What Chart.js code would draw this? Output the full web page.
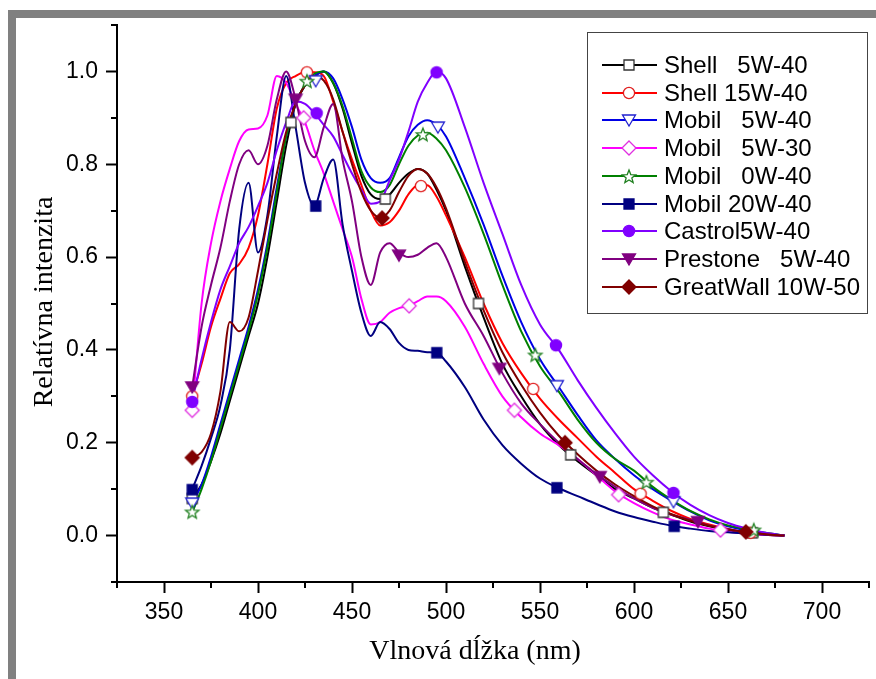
<!DOCTYPE html>
<html>
<head>
<meta charset="utf-8">
<script src="https://cdn.jsdelivr.net/npm/chart.js@4.4.0/dist/chart.umd.min.js"></script>
<style>
  html, body { margin: 0; padding: 0; background: #fff; }
  #wrap { position: relative; width: 876px; height: 679px; }
</style>
</head>
<body>
<div id="wrap"><canvas id="chart"></canvas></div>
<script>
/* ===============================
   DATA
   =============================== */

// wavelength grid, nm
const WAVELENGTHS = [365,370,375,380,385,390,395,400,405,410,415,420,425,430,435,440,445,450,455,460,465,470,475,480,485,490,495,500,
                     510,520,530,540,550,560,570,580,590,600,610,620,630,640,650,660,670,680];

const SHELL_5W40      = [0.08,0.11,0.16,0.22,0.29,0.36,0.43,0.50,0.60,0.72,0.84,0.93,0.97,0.99,1.00,0.975,0.92,0.845,0.775,0.735,0.725,0.735,0.76,0.78,0.79,0.78,0.745,0.70,
                         0.58,0.47,0.37,0.30,0.24,0.195,0.16,0.13,0.10,0.08,0.06,0.045,0.03,0.02,0.012,0.005,0.002,0];
const SHELL_15W40     = [0.30,0.37,0.45,0.51,0.565,0.585,0.62,0.69,0.80,0.92,0.975,0.99,0.998,0.998,0.99,0.935,0.87,0.81,0.755,0.70,0.668,0.675,0.70,0.735,0.755,0.755,0.73,0.69,
                         0.60,0.50,0.415,0.35,0.295,0.25,0.21,0.17,0.135,0.10,0.075,0.053,0.036,0.024,0.014,0.006,0.002,0];
const MOBIL_5W40      = [0.07,0.11,0.17,0.24,0.31,0.38,0.45,0.53,0.63,0.75,0.86,0.93,0.97,0.99,1.00,0.985,0.94,0.88,0.81,0.77,0.76,0.77,0.815,0.86,0.885,0.895,0.885,0.86,
                         0.77,0.67,0.56,0.46,0.38,0.32,0.26,0.205,0.165,0.13,0.10,0.075,0.052,0.033,0.02,0.011,0.005,0];
const MOBIL_5W30      = [0.27,0.50,0.63,0.72,0.79,0.85,0.875,0.877,0.905,0.99,0.975,0.93,0.89,0.83,0.78,0.72,0.66,0.60,0.51,0.455,0.46,0.48,0.49,0.495,0.505,0.515,0.515,0.505,
                         0.45,0.37,0.30,0.255,0.22,0.195,0.165,0.13,0.095,0.07,0.05,0.034,0.024,0.015,0.008,0.004,0.002,0];
const MOBIL_0W40      = [0.05,0.10,0.16,0.23,0.30,0.37,0.44,0.52,0.62,0.74,0.86,0.93,0.97,0.995,1.00,0.975,0.925,0.855,0.785,0.75,0.74,0.755,0.80,0.84,0.862,0.868,0.855,0.83,
                         0.75,0.65,0.54,0.44,0.365,0.31,0.25,0.20,0.165,0.14,0.105,0.077,0.053,0.035,0.022,0.014,0.006,0];
const MOBIL_20W40     = [0.10,0.15,0.21,0.28,0.40,0.66,0.76,0.61,0.69,0.86,0.99,0.88,0.76,0.71,0.77,0.81,0.67,0.57,0.48,0.43,0.46,0.445,0.415,0.40,0.398,0.395,0.394,0.375,
                         0.32,0.25,0.195,0.155,0.123,0.102,0.085,0.068,0.052,0.04,0.03,0.021,0.015,0.01,0.007,0.004,0.002,0];
const CASTROL_5W40    = [0.29,0.38,0.46,0.53,0.58,0.63,0.665,0.71,0.76,0.83,0.89,0.935,0.93,0.91,0.885,0.86,0.82,0.78,0.745,0.715,0.72,0.765,0.81,0.87,0.935,0.975,1.00,0.985,
                         0.88,0.76,0.65,0.54,0.455,0.40,0.335,0.275,0.22,0.17,0.13,0.095,0.066,0.044,0.027,0.015,0.006,0];
const PRESTONE_5W40   = [0.32,0.45,0.54,0.62,0.72,0.80,0.83,0.80,0.84,0.94,1.00,0.94,0.85,0.815,0.88,0.93,0.81,0.72,0.60,0.54,0.61,0.63,0.61,0.60,0.605,0.62,0.63,0.60,
                         0.50,0.43,0.35,0.285,0.24,0.20,0.165,0.133,0.105,0.08,0.06,0.045,0.034,0.022,0.014,0.007,0.003,0];
const GREATWALL_10W50 = [0.168,0.18,0.22,0.31,0.46,0.44,0.47,0.57,0.68,0.78,0.87,0.93,0.97,0.99,0.98,0.94,0.87,0.80,0.74,0.70,0.685,0.70,0.74,0.775,0.79,0.78,0.75,0.705,
                         0.59,0.485,0.395,0.325,0.265,0.215,0.175,0.14,0.11,0.085,0.063,0.046,0.032,0.021,0.013,0.008,0.003,0];

// marker points [nm, value]
const MARK_SHELL_5W40      = [[365,0.08],[417.5,0.89],[467.7,0.725],[517.3,0.50],[566.3,0.174],[615.6,0.05],[663,0.006]];
const MARK_SHELL_15W40     = [[365,0.30],[426,0.998],[486.7,0.753],[546.4,0.316],[603.5,0.09],[662,0.006]];
const MARK_MOBIL_5W40      = [[365,0.07],[430.7,0.98],[495.7,0.88],[559,0.323],[621,0.073]];
const MARK_MOBIL_5W30      = [[365,0.27],[424.3,0.90],[480.4,0.495],[536.4,0.27],[591.8,0.088],[646,0.012]];
const MARK_MOBIL_0W40      = [[365,0.052],[426,0.98],[487.7,0.865],[547.5,0.39],[606.6,0.116],[663.7,0.013]];
const MARK_MOBIL_20W40     = [[365,0.099],[430.7,0.71],[495.1,0.394],[559,0.103],[621.4,0.02]];
const MARK_CASTROL_5W40    = [[365,0.288],[431.2,0.91],[495,0.998],[558.5,0.41],[621,0.092]];
const MARK_PRESTONE_5W40   = [[365,0.32],[420,0.94],[475,0.604],[528.4,0.36],[581.8,0.127],[634,0.03]];
const MARK_GREATWALL_10W50 = [[365,0.168],[466,0.684],[563.3,0.2],[659.5,0.008]];

// axis ticks
const X_TICKS = [350,400,450,500,550,600,650,700];
const X_MINOR = [325,375,425,475,525,575,625,675,725];
const Y_TICKS = [0,0.2,0.4,0.6,0.8,1.0];
const Y_MINOR = [-0.1,0.1,0.3,0.5,0.7,0.9,1.1];

const X_TITLE = "Vlnová dĺžka (nm)";
const Y_TITLE = "Relatívna intenzita";

/* ------------------------------
   SERIES STYLES
--------------------------------*/
const SERIES = [
  { name: "Shell   5W-40",    values: SHELL_5W40,      marks: MARK_SHELL_5W40,      color: "#000000", shape: "square",  fill: "#ffffff", stroke: "#333333" },
  { name: "Shell 15W-40",     values: SHELL_15W40,     marks: MARK_SHELL_15W40,     color: "#ff0000", shape: "circle",  fill: "#ffffff", stroke: "#e02020" },
  { name: "Mobil   5W-40",    values: MOBIL_5W40,      marks: MARK_MOBIL_5W40,      color: "#0000e6", shape: "triDown", fill: "#ffffff", stroke: "#2020d0" },
  { name: "Mobil   5W-30",    values: MOBIL_5W30,      marks: MARK_MOBIL_5W30,      color: "#ff00ff", shape: "diamond", fill: "#ffffff", stroke: "#e030e0" },
  { name: "Mobil   0W-40",    values: MOBIL_0W40,      marks: MARK_MOBIL_0W40,      color: "#008000", shape: "star",    fill: "#ffffff", stroke: "#208020" },
  { name: "Mobil 20W-40",     values: MOBIL_20W40,     marks: MARK_MOBIL_20W40,     color: "#000080", shape: "square",  fill: "#000080", stroke: "#000080" },
  { name: "Castrol5W-40",     values: CASTROL_5W40,    marks: MARK_CASTROL_5W40,    color: "#8000ff", shape: "circle",  fill: "#8000ff", stroke: "#8000ff" },
  { name: "Prestone   5W-40", values: PRESTONE_5W40,   marks: MARK_PRESTONE_5W40,   color: "#800080", shape: "triDown", fill: "#800080", stroke: "#800080" },
  { name: "GreatWall 10W-50", values: GREATWALL_10W50, marks: MARK_GREATWALL_10W50, color: "#800000", shape: "diamond", fill: "#800000", stroke: "#800000" }
];

const SANS = "'Liberation Sans', Arial, sans-serif";
const SERIF = "'Liberation Serif', 'Times New Roman', serif";

/* ------------------------------
   MARKER IMAGES
--------------------------------*/
function makeMarker(shape, fill, stroke){
  const s = 18, c = s / 2;
  const cv = document.createElement("canvas");
  cv.width = s; cv.height = s;
  const g = cv.getContext("2d");
  g.fillStyle = fill;
  g.strokeStyle = stroke;
  g.lineWidth = 1.3;
  g.beginPath();
  if (shape === "square") {
    g.rect(c - 5, c - 5, 10, 10);
  } else if (shape === "circle") {
    g.arc(c, c, 5.6, 0, Math.PI * 2);
  } else if (shape === "triDown") {
    g.moveTo(c - 6.5, c - 5); g.lineTo(c + 6.5, c - 5); g.lineTo(c, c + 6); g.closePath();
  } else if (shape === "diamond") {
    g.moveTo(c, c - 7); g.lineTo(c + 7, c); g.lineTo(c, c + 7); g.lineTo(c - 7, c); g.closePath();
  } else if (shape === "star") {
    for (let i = 0; i < 10; i++) {
      const r = i % 2 ? 3 : 7;
      const a = -Math.PI / 2 + i * Math.PI / 5;
      const px = c + r * Math.cos(a), py = c + 1 + r * Math.sin(a);
      if (i === 0) g.moveTo(px, py); else g.lineTo(px, py);
    }
    g.closePath();
  }
  g.fill();
  g.stroke();
  return cv;
}

SERIES.forEach(s => { s.marker = makeMarker(s.shape, s.fill, s.stroke); });

/* ------------------------------
   PLUGINS
--------------------------------*/
const framePlugin = {
  id: "frame",
  beforeDraw(chart){
    const ctx = chart.ctx;
    ctx.save();
    ctx.fillStyle = "#ffffff";
    ctx.fillRect(0, 0, chart.width, chart.height);
    ctx.fillStyle = "#808080";
    ctx.fillRect(8, 10, chart.width - 8, 8);
    ctx.fillRect(8, 10, 8, chart.height - 10);
    ctx.restore();
  }
};

const minorTickPlugin = {
  id: "minorTicks",
  afterDraw(chart){
    const ctx = chart.ctx;
    const xs = chart.scales.x, ys = chart.scales.y;
    const area = chart.chartArea;
    ctx.save();
    ctx.strokeStyle = "#000";
    ctx.lineWidth = 2;
    ctx.beginPath();
    X_MINOR.forEach(v => {
      const px = Math.round(xs.getPixelForValue(v));
      ctx.moveTo(px, area.bottom); ctx.lineTo(px, area.bottom + 6);
    });
    Y_MINOR.forEach(v => {
      const py = Math.round(ys.getPixelForValue(v));
      ctx.moveTo(area.left, py); ctx.lineTo(area.left - 6, py);
    });
    ctx.stroke();
    ctx.restore();
  }
};

const titlePlugin = {
  id: "axisTitles",
  afterDraw(chart){
    const ctx = chart.ctx;
    ctx.save();
    ctx.fillStyle = "#000";
    ctx.font = "28px " + SERIF;
    ctx.textAlign = "center";
    ctx.textBaseline = "alphabetic";
    ctx.fillText(X_TITLE, 475, 659);
    ctx.translate(52, 302);
    ctx.rotate(-Math.PI / 2);
    ctx.fillText(Y_TITLE, 0, 0);
    ctx.restore();
  }
};

const legendPlugin = {
  id: "boxLegend",
  afterDraw(chart){
    const ctx = chart.ctx;
    ctx.save();
    ctx.fillStyle = "#fff";
    ctx.fillRect(587, 32, 280, 281);
    ctx.strokeStyle = "#444";
    ctx.lineWidth = 1;
    ctx.strokeRect(587.5, 32.5, 280, 281);
    ctx.font = "24px " + SANS;
    ctx.textBaseline = "middle";
    ctx.textAlign = "left";
    SERIES.forEach((s, i) => {
      const y = Math.round(65 + i * 27.7);
      ctx.strokeStyle = s.color;
      ctx.lineWidth = 2;
      ctx.beginPath();
      ctx.moveTo(602, y); ctx.lineTo(657, y);
      ctx.stroke();
      ctx.drawImage(s.marker, 629 - s.marker.width / 2, y - s.marker.height / 2);
      ctx.fillStyle = "#000";
      ctx.fillText(s.name, 664, y + 1);
    });
    ctx.restore();
  }
};

/* ------------------------------
   DATASETS
--------------------------------*/
const datasets = [];
SERIES.forEach((s, i) => {
  datasets.push({
    label: s.name,
    data: WAVELENGTHS.map((x, k) => ({ x, y: s.values[k] })),
    borderColor: s.color,
    borderWidth: 2,
    pointRadius: 0,
    cubicInterpolationMode: "monotone",
    fill: false,
    order: 30 - i
  });
});
SERIES.forEach((s, i) => {
  datasets.push({
    label: s.name + " markers",
    data: s.marks.map(([x, y]) => ({ x, y })),
    showLine: false,
    pointStyle: s.marker,
    pointRadius: 6,
    order: 15 - i
  });
});

/* ------------------------------
   CHART
--------------------------------*/
new Chart(document.getElementById("chart"), {
  type: "line",
  data: { datasets },
  plugins: [framePlugin, minorTickPlugin, titlePlugin, legendPlugin],
  options: {
    responsive: true,
    maintainAspectRatio: false,
    animation: false,
    events: [],
    layout: { padding: { top: 25, right: 2, left: 0, bottom: 0 } },
    plugins: {
      legend: { display: false },
      tooltip: { enabled: false }
    },
    scales: {
      x: {
        type: "linear",
        min: 325,
        max: 725,
        afterBuildTicks: s => { s.ticks = X_TICKS.map(v => ({ value: v })); },
        afterFit: s => { s.height = 97; },
        grid: { drawOnChartArea: false, drawTicks: true, tickLength: 11, tickWidth: 2, tickColor: "#000" },
        border: { display: true, color: "#000", width: 2 },
        ticks: {
          color: "#000",
          padding: 6,
          maxRotation: 0,
          autoSkip: false,
          font: { family: SANS, size: 23 },
          callback: v => String(v)
        }
      },
      y: {
        type: "linear",
        min: -0.1,
        max: 1.1,
        afterBuildTicks: s => { s.ticks = Y_TICKS.map(v => ({ value: v })); },
        afterFit: s => { s.width = 117; },
        grid: { drawOnChartArea: false, drawTicks: true, tickLength: 11, tickWidth: 2, tickColor: "#000" },
        border: { display: true, color: "#000", width: 2 },
        ticks: {
          color: "#000",
          padding: 8,
          font: { family: SANS, size: 23 },
          callback: v => Number(v).toFixed(1)
        }
      }
    }
  }
});
</script>
</body>
</html>
